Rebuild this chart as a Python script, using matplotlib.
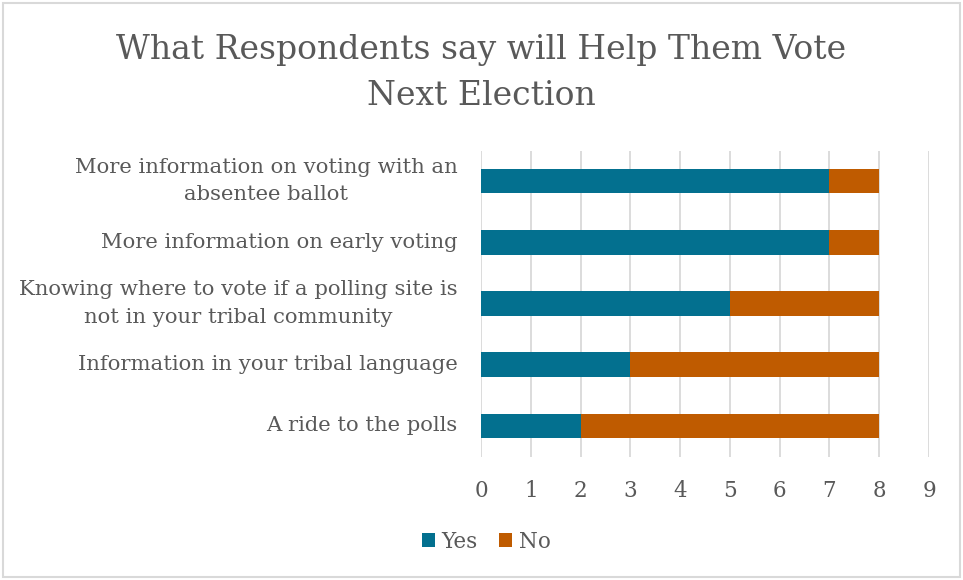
import matplotlib.pyplot as plt
from matplotlib.patches import Rectangle

plt.rcParams['font.family'] = ['DejaVu Serif']

categories = [
    'More information on voting with an\nabsentee ballot',
    'More information on early voting',
    'Knowing where to vote if a polling site is\nnot in your tribal community',
    'Information in your tribal language',
    'A ride to the polls',
]
yes_counts = [7, 7, 5, 3, 2]
no_counts = [1, 1, 3, 5, 6]
x_ticks = list(range(0, 10))

text_color = '#595959'
yes_color = '#03708F'
no_color = '#BF5B00'

fig = plt.figure(figsize=(9.63, 5.8), dpi=100)
ax = fig.add_axes([0.4995, 0.2129, 0.4652, 0.5276])

pos = list(range(len(categories)))
ax.barh(pos, yes_counts, height=0.4, color=yes_color, label='Yes', zorder=3)
ax.barh(pos, no_counts, left=yes_counts, height=0.4, color=no_color, label='No', zorder=3)

ax.set_ylim(len(categories) - 0.5, -0.5)
ax.set_xlim(0, 9)
ax.set_xticks(x_ticks)
ax.set_yticks(pos)
ax.set_yticklabels(categories, ha='right', va='center', multialignment='center',
                   linespacing=1.55)
ax.tick_params(axis='y', length=0, pad=17, labelsize=15.2, labelcolor=text_color)
ax.tick_params(axis='x', length=0, pad=17, labelsize=15.5, labelcolor=text_color)
ax.grid(axis='x', color='#D9D9D9', linewidth=1.3, zorder=0)
for s in ax.spines.values():
    s.set_visible(False)

fig.text(0.5, 0.874, 'What Respondents say will Help Them Vote\nNext Election',
         ha='center', va='center', fontsize=23.8, color=text_color, linespacing=1.55)

fig.legend(loc='center', bbox_to_anchor=(0.505, 0.066), ncol=2, frameon=False,
           fontsize=15.5, labelcolor=text_color, handlelength=0.6, handleheight=0.6,
           handletextpad=0.3, columnspacing=1.0)

# light frame around the whole chart area
fig.patches.append(Rectangle((0.003, 0.005), 0.994, 0.99, transform=fig.transFigure,
                             fill=False, edgecolor='#D9D9D9', linewidth=1.5))

fig.savefig('out.png', dpi=100)
